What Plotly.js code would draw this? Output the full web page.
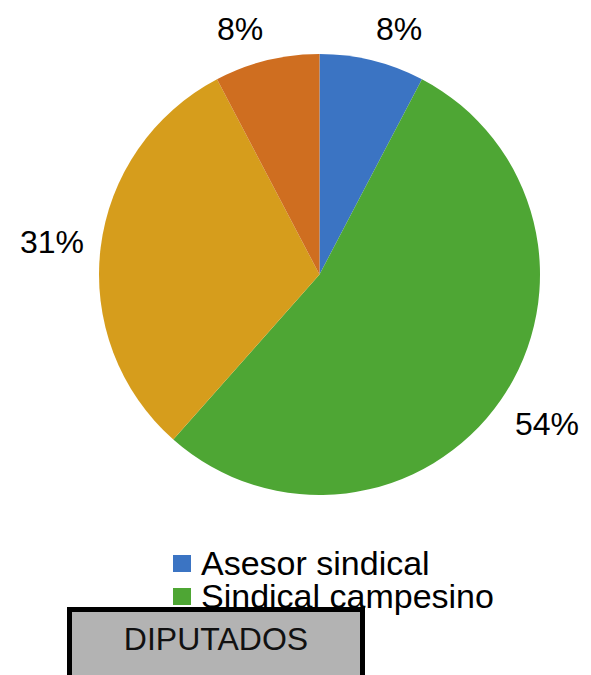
<!DOCTYPE html>
<html>
<head>
<meta charset="utf-8">
<script src="https://cdn.plot.ly/plotly-3.0.1.min.js"></script>
<style>html,body{margin:0;padding:0;background:#fff;}#chart{width:591px;height:675px;}</style>
</head>
<body>
<div id="chart"></div>
<script>
const labels = ["Asesor sindical", "Sindical campesino", "Otro 1", "Otro 2"];
const values = [1, 7, 4, 1];
const colors = ["#3B74C3", "#4EA634", "#D69D1C", "#CF6E20"];
const legendShown = [0, 1];
const boxLabel = "DIPUTADOS";

const W = 591, H = 675;
const px = x => x / W;
const py = y => 1 - y / H;
const FONT = "Liberation Sans, Arial, sans-serif";
const LABEL_SIZE = 32;

// pie domain (pixels)
const dom = {x0: 98, x1: 541, y0: 54, y1: 495};
const cx = (dom.x0 + dom.x1) / 2, cy = (dom.y0 + dom.y1) / 2;
const r = Math.min(dom.x1 - dom.x0, dom.y1 - dom.y0) / 2;

const shapes = [];
const annotations = [];

// percentage labels placed outside, derived from the values
const ctx = document.createElement("canvas").getContext("2d");
ctx.font = LABEL_SIZE + "px 'Liberation Sans'";
const total = values.reduce((a, b) => a + b, 0);
let cum = 0;
values.forEach(v => {
  const mid = (cum + v / 2) / total * 2 * Math.PI; // clockwise from top
  cum += v;
  const dx = Math.sin(mid), dy = -Math.cos(mid);
  const R = r + 17;
  const txt = Math.round(v / total * 100) + "%";
  const w = ctx.measureText(txt).width, h = 30;
  const ax = cx + R * dx, ay = cy + R * dy;
  const ox = Math.sign(dx) * w / 2;
  const oy = h / 2 * Math.max(-1, Math.min(1, dy / 0.5));
  annotations.push({xref: "paper", yref: "paper", x: px(ax + ox), y: py(ay + oy),
    xanchor: "center", yanchor: "middle", showarrow: false, text: txt,
    font: {family: FONT, size: LABEL_SIZE, color: "#000"}});
});

// legend (only the entries visible in the original)
legendShown.forEach((i, k) => {
  const top = 555 + k * 33;
  shapes.push({type: "rect", xref: "paper", yref: "paper",
    x0: px(173), x1: px(191), y0: py(top + 17), y1: py(top),
    fillcolor: colors[i], line: {width: 0}});
  annotations.push({xref: "paper", yref: "paper", x: px(199), y: py(top + 8),
    xanchor: "left", yanchor: "middle", showarrow: false, text: labels[i],
    font: {family: FONT, size: 34, color: "#000"}});
});

// title box
annotations.push({xref: "paper", yref: "paper", x: px(67), y: py(607),
  xanchor: "left", yanchor: "top", showarrow: false, text: boxLabel,
  width: 270, height: 70, valign: "top", align: "center",
  bgcolor: "#B3B3B3", bordercolor: "#000", borderwidth: 5, borderpad: 9,
  font: {family: FONT, size: 32, color: "#111"}});

const data = [{
  type: "pie", labels: labels, values: values, sort: false,
  direction: "clockwise", rotation: 0,
  marker: {colors: colors, line: {width: 0}},
  textinfo: "none",
  showlegend: false, hoverinfo: "label+percent",
  domain: {x: [px(dom.x0), px(dom.x1)], y: [py(dom.y1), py(dom.y0)]}
}];

const layout = {
  width: W, height: H, margin: {l: 0, r: 0, t: 0, b: 0},
  paper_bgcolor: "#fff", showlegend: false,
  shapes: shapes, annotations: annotations
};
Plotly.newPlot("chart", data, layout, {displayModeBar: false, staticPlot: true});
</script>
</body>
</html>
